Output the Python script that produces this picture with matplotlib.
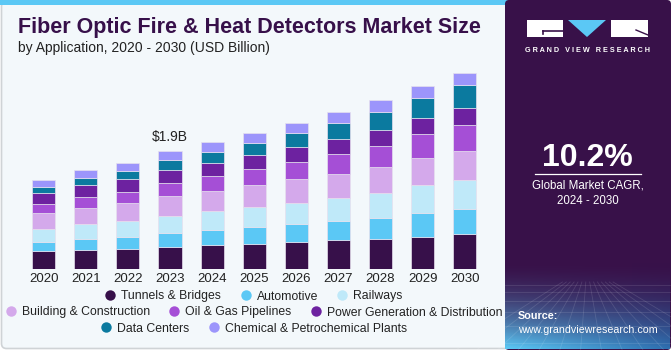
import matplotlib
matplotlib.use('Agg')
import matplotlib.pyplot as plt
import numpy as np
from matplotlib.patches import Rectangle, FancyBboxPatch, Polygon
from matplotlib.lines import Line2D
from matplotlib import font_manager

# Data (USD Billion)
years = ['2020', '2021', '2022', '2023', '2024', '2025', '2026', '2027', '2028', '2029', '2030']
segments = ['Tunnels & Bridges', 'Automotive', 'Railways', 'Building & Construction',
            'Oil & Gas Pipelines', 'Power Generation & Distribution', 'Data Centers',
            'Chemical & Petrochemical Plants']
tunnels = [0.29, 0.31, 0.33, 0.36, 0.39, 0.41, 0.44, 0.46, 0.49, 0.52, 0.56]
automotive = [0.15, 0.18, 0.19, 0.22, 0.24, 0.26, 0.29, 0.31, 0.34, 0.38, 0.40]
railways = [0.20, 0.23, 0.25, 0.27, 0.30, 0.33, 0.34, 0.38, 0.40, 0.45, 0.48]
building = [0.26, 0.27, 0.30, 0.32, 0.33, 0.35, 0.38, 0.39, 0.42, 0.44, 0.47]
oil_gas = [0.15, 0.17, 0.18, 0.21, 0.24, 0.27, 0.28, 0.31, 0.34, 0.38, 0.42]
power = [0.17, 0.19, 0.20, 0.22, 0.21, 0.22, 0.23, 0.25, 0.25, 0.26, 0.27]
data_centers = [0.11, 0.12, 0.13, 0.16, 0.18, 0.20, 0.23, 0.26, 0.29, 0.33, 0.37]
chemical = [0.11, 0.12, 0.13, 0.15, 0.16, 0.16, 0.17, 0.17, 0.19, 0.19, 0.19]
series = [tunnels, automotive, railways, building, oil_gas, power, data_centers, chemical]
colors = ['#37104a', '#5bc8f5', '#bfe9f9', '#d4a9eb', '#a54fd6', '#6d22a0', '#0b7a9f', '#9c95fb']

W, H = 671, 350
names = {f.name for f in font_manager.fontManager.ttflist}
title_font = ['Liberation Sans Narrow', 'Liberation Sans'] if 'Liberation Sans Narrow' in names else ['Liberation Sans']
base_font = ['Liberation Sans', 'DejaVu Sans']
plt.rcParams['font.family'] = base_font

fig = plt.figure(figsize=(W / 100, H / 100), dpi=100)
fig.patch.set_facecolor('white')

# overlay in pixel coordinates for panels and decorations
bg = fig.add_axes([0, 0, 1, 1], zorder=0)
bg.set_xlim(0, W)
bg.set_ylim(H, 0)
bg.axis('off')

# left panel
bg.add_patch(FancyBboxPatch((1.5, 1.5), 540, H - 3, boxstyle='round,pad=0,rounding_size=5',
                            facecolor='#f3f8fb', edgecolor='#cfd3d6', linewidth=1.2))
bg.add_patch(Rectangle((0, 0), 510, 4.5, facecolor='#5bc8f5', edgecolor='none'))

# right panel
px0 = 505
bg.add_patch(FancyBboxPatch((px0, 0), W - px0, H, boxstyle='round,pad=0,rounding_size=4',
                            facecolor='#381149', edgecolor='none'))
yy, xx = np.mgrid[0:1:60j, 0:1:60j]
top = np.array([0x38, 0x11, 0x49]) / 255
blue = np.array([0x2e, 0x6f, 0xb0]) / 255
light = np.array([0x5b, 0xc8, 0xf5]) / 255
t = yy[..., None] ** 1.6
mix = top * (1 - t) + (blue * xx[..., None] + light * (1 - xx[..., None])) * t
bg.imshow(mix, extent=[px0, W - 1, H - 1, 262], aspect='auto', zorder=1)
# faint perspective grid
for k in range(14):
    x1 = px0 + k * 13
    bg.plot([587 + (x1 - 587) * 0.3, x1 - (587 - x1) * 0.6], [282, H], color='white', alpha=0.12, lw=0.6, zorder=2)
for yline in [285, 292, 301, 312, 326, 343]:
    bg.plot([px0, W - 1], [yline, yline], color='white', alpha=0.12, lw=0.6, zorder=2)

# logo
bg.add_patch(Rectangle((527, 20), 36, 17, facecolor='white', edgecolor='none', zorder=3))
bg.plot([543, 563], [31, 31], color='#381149', lw=1.2, zorder=4)
bg.plot([543, 543], [31, 34], color='#381149', lw=1.2, zorder=4)
bg.add_patch(Polygon([[568, 20], [606, 20], [587, 37]], facecolor='#5bc8f5', edgecolor='none', zorder=3))
bg.add_patch(Rectangle((611, 20), 37, 17, facecolor='white', edgecolor='none', zorder=3))
bg.plot([636, 648], [30, 35], color='#381149', lw=1.0, zorder=4)
bg.text(587.5, 51, 'G R A N D   V I E W   R E S E A R C H', ha='center', va='center',
        fontsize=5.2, fontweight='bold', color='white', zorder=3)

bg.text(587.5, 158, '10.2%', ha='center', va='center', fontsize=23, fontweight='bold', color='white', zorder=3)
bg.plot([535, 641], [173.5, 173.5], color='white', lw=0.9, zorder=3)
bg.text(587.5, 186, 'Global Market CAGR,', ha='center', va='center', fontsize=8.3, color='white', zorder=3)
bg.text(587.5, 201, '2024 - 2030', ha='center', va='center', fontsize=8.3, color='white', zorder=3)
bg.text(518, 316, 'Source:', ha='left', va='center', fontsize=7.8, fontweight='bold', color='white', zorder=3)
bg.text(518, 330, 'www.grandviewresearch.com', ha='left', va='center', fontsize=7.7, color='white', zorder=3)

# title
bg.text(18, 27, 'Fiber Optic Fire & Heat Detectors Market Size', ha='left', va='center',
        fontsize=15.5, fontweight='bold', color='#37104a', family=title_font, zorder=3)
bg.text(18, 48, 'by Application, 2020 - 2030 (USD Billion)', ha='left', va='center',
        fontsize=10, color='#222222', zorder=3)

# bar chart
base_y, top_y = 269, 30
ax = fig.add_axes([0, 1 - base_y / H, 505 / W, (base_y - top_y) / H], zorder=2)
ax.patch.set_alpha(0)
x = np.arange(len(years))
ax.set_xlim(-43.7 / 42.1, (505 - 43.7) / 42.1)
ax.set_ylim(0, (base_y - top_y) / 62.0)
bottom = np.zeros(len(years))
for vals, c, name in zip(series, colors, segments):
    ax.bar(x, vals, width=0.55, bottom=bottom, color=c, edgecolor='#e6e0ee', linewidth=0.5, label=name)
    bottom += np.array(vals)
ax.text(x[3], bottom[3] + 0.1, '$1.9B', ha='center', va='bottom', fontsize=10, color='#222222')
ax.set_xticks(x)
ax.set_xticklabels(years, fontsize=9.5, color='#222222')
ax.tick_params(axis='x', length=0, pad=3)
ax.set_yticks([])
for s in ax.spines.values():
    s.set_visible(False)

# legend in three centered rows
handles = [Line2D([], [], marker='o', linestyle='none', markersize=7.5, markerfacecolor=c,
                  markeredgecolor='none') for c in colors]
rows = [(0, 3, 296.5), (3, 6, 312.5), (6, 8, 328.5)]
for a, b, ypix in rows:
    leg = fig.legend(handles[a:b], segments[a:b], loc='center', ncol=b - a,
                     bbox_to_anchor=(254 / W, 1 - ypix / H), frameon=False, fontsize=8.8,
                     handlelength=0.8, handletextpad=0.5, columnspacing=1.6, borderpad=0)
    for txt in leg.get_texts():
        txt.set_color('#222222')

fig.savefig('out.png', dpi=100, facecolor='white')
